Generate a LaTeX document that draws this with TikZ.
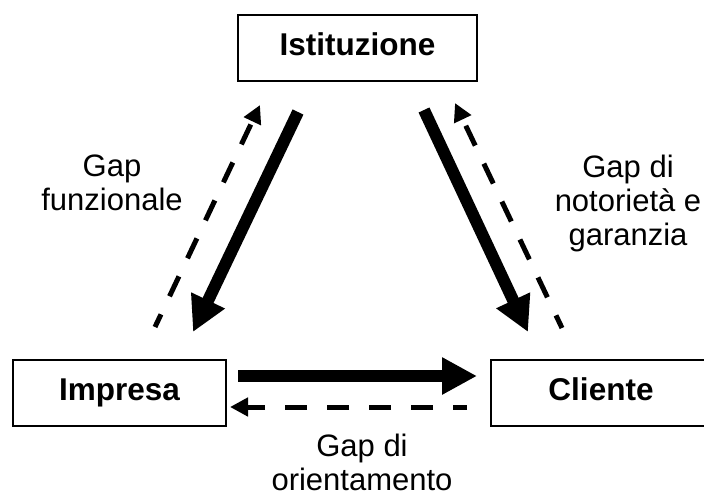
\documentclass[tikz,border=0pt]{standalone}
\usepackage{fontspec}
\setmainfont{Liberation Sans}
\usetikzlibrary{arrows.meta}
\begin{document}
\begin{tikzpicture}[x=1pt,y=-1pt,
  box/.style={draw, line width=2pt, minimum height=66pt, inner sep=0pt,
    font=\fontsize{31.5}{36}\selectfont\bfseries, text height=22.6pt, text depth=8pt},
  lbl/.style={align=center, inner sep=0pt, font=\fontsize{31}{34}\selectfont},
  strong/.style={line width=12pt, -{Triangle[length=35pt,width=35pt]}},
  gap/.style={line width=5pt, dash pattern=on 22pt off 20pt, dash phase=8pt,
    -{Triangle[length=18pt,width=18pt]}}]
\useasboundingbox (0,0) rectangle (704,498);
\node[box, minimum width=239pt] (ist) at (357.5,48) {Istituzione};
\node[box, minimum width=213pt] (imp) at (119.5,393) {Impresa};
\node[box, minimum width=220pt] (cli) at (601,393) {Cliente};

\coordinate (a1s) at (298,112); \coordinate (a1e) at (193,332);
\coordinate (a2s) at (155,327); \coordinate (a2e) at (260,105);
\coordinate (a3s) at (424,110); \coordinate (a3e) at (528,332);
\coordinate (a4s) at (562,328); \coordinate (a4e) at (455,103);
\coordinate (a5s) at (238,376); \coordinate (a5e) at (477,376);
\coordinate (a6s) at (467,407); \coordinate (a6e) at (230,407);

\draw[strong] (a1s) -- (a1e);
\draw[gap] (a2s) -- (a2e);
\draw[strong] (a3s) -- (a3e);
\draw[gap] (a4s) -- (a4e);
\draw[strong] (a5s) -- (a5e);
\draw[gap] (a6s) -- (a6e);

\node[lbl, anchor=base] (g1) at (112,210) {Gap\\funzionale};
\node[lbl, anchor=base] (g2) at (628,245) {Gap di\\notorietà e\\garanzia};
\node[lbl, anchor=base] (g3) at (362,490) {Gap di\\orientamento};
\end{tikzpicture}
\end{document}
